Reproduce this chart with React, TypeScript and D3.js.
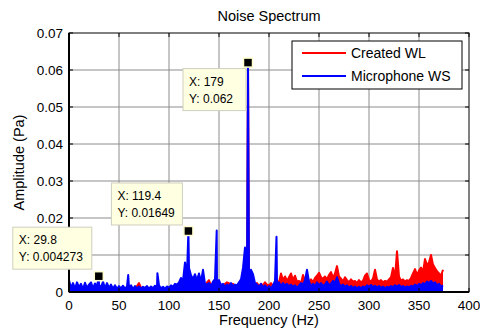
import * as d3 from 'd3';

// frequency grid (Hz) shared by both spectra, values in mPa
const gridFreq = d3.range(0, 376, 2);

const createdWL = [
  0.4, 0.8, 0.5, 0.9, 0.6, 1.0, 0.5, 0.8, 0.6, 0.9,
  0.5, 0.8, 0.6, 1.0, 0.7, 0.9, 0.5, 0.8, 0.6, 0.9,
  0.5, 0.7, 0.4, 0.8, 0.6, 0.9, 0.5, 0.7, 0.6, 0.8,
  0.5, 0.9, 0.7, 1.2, 1.6, 2.4, 1.2, 0.8, 0.6, 0.9,
  0.6, 1.0, 0.7, 0.9, 0.5, 0.8, 0.6, 1.0, 0.7, 0.9,
  0.6, 0.9, 0.7, 1.1, 0.8, 1.2, 0.9, 1.4, 1.0, 1.6,
  1.4, 2.0, 1.2, 1.6, 1.0, 1.4, 1.2, 1.8, 1.3, 2.6,
  3.2, 1.6, 2.4, 1.2, 1.8, 1.4, 2.0, 1.6, 2.2, 2.6,
  2.4, 1.8, 2.2, 1.4, 1.8, 1.6, 2.0, 1.4, 2.4, 3.0,
  5.4, 3.6, 2.6, 2.0, 2.4, 1.6, 2.2, 1.8, 2.6, 2.0,
  1.8, 2.4, 1.6, 2.2, 3.0, 2.6, 5.0, 3.2, 4.2, 3.0,
  4.0, 5.0, 3.2, 4.4, 2.8, 3.0, 2.4, 4.6, 3.0, 3.6,
  2.8, 3.4, 2.6, 3.8, 4.4, 5.2, 4.0, 3.6, 4.2, 3.4,
  4.6, 5.4, 3.8, 5.0, 7.0, 4.2, 3.6, 2.8, 4.0, 3.2,
  2.6, 3.4, 2.8, 3.0, 2.4, 3.2, 2.6, 3.0, 4.4, 5.0,
  3.2, 2.8, 3.6, 6.0, 3.4, 2.8, 3.2, 2.6, 3.0, 2.8,
  3.4, 4.0, 6.5, 3.8, 11.0, 4.2, 3.0, 3.4, 2.8, 3.2,
  3.0, 3.8, 5.0, 6.2, 4.6, 5.8, 6.6, 5.4, 8.9, 7.2,
  8.0, 10.0, 7.4, 6.5, 5.6, 5.0, 4.4, 6.0,
];

const microphoneWS = [
  3.2, 1.2, 2.4, 0.9, 2.6, 1.3, 2.2, 0.8, 2.5, 1.1,
  2.0, 2.6, 1.0, 2.3, 1.5, 2.0, 1.2, 2.8, 1.0, 2.4,
  1.1, 2.0, 0.9, 1.8, 0.8, 1.6, 1.0, 1.7, 0.9, 1.5,
  1.2, 1.8, 0.8, 1.6, 1.0, 1.5, 0.9, 1.4, 1.1, 1.6,
  0.9, 1.5, 1.0, 1.7, 1.2, 1.8, 1.0, 1.4, 0.9, 1.5,
  1.2, 1.8, 1.4, 2.2, 2.0, 2.6, 3.8, 3.0, 8.0, 5.0,
  6.5, 4.5, 3.5, 4.8, 3.2, 5.0, 2.8, 6.0, 2.2, 2.0,
  2.4, 1.6, 2.8, 3.5, 2.0, 3.2, 1.8, 2.2, 1.4, 2.0,
  1.6, 2.4, 1.5, 2.0, 1.8, 2.6, 3.4, 6.5, 12.0, 5.0,
  4.2, 6.0, 4.8, 2.4, 2.0, 1.4, 2.2, 1.2, 1.8, 1.0,
  1.6, 1.0, 1.8, 3.0, 2.2, 2.6, 1.6, 2.4, 1.8, 2.2,
  1.5, 2.0, 1.4, 1.8, 1.2, 1.7, 2.4, 2.0, 3.2, 6.0,
  2.8, 1.6, 2.2, 1.5, 2.6, 1.8, 2.4, 1.6, 2.0, 2.8,
  1.8, 2.2, 3.0, 2.4, 4.0, 2.2, 1.6, 2.0, 1.4, 1.8,
  1.2, 1.6, 1.1, 1.5, 1.0, 1.4, 1.0, 1.5, 1.2, 1.8,
  1.4, 1.9, 1.3, 1.7, 1.2, 1.6, 1.1, 1.5, 1.0, 1.4,
  1.2, 1.6, 1.3, 1.8, 1.5, 1.9, 1.4, 1.6, 1.2, 1.5,
  1.3, 1.7, 1.4, 2.0, 1.6, 2.2, 1.8, 2.4, 2.0, 2.8,
  2.4, 3.0, 2.2, 2.6, 1.8, 2.2, 1.4, 1.8,
];

// narrow tones between grid points: [Hz, mPa]
const createdPeaks = [[179, 62.2]];
const microphonePeaks = [
  [29.8, 4.273], [59.2, 4.6], [88.4, 5.1], [119.4, 16.49],
  [147.7, 16.6], [179, 62.0], [207.5, 14.9],
];

const datatipX = [179, 119.4, 29.8];
const datatipY = [0.062, 0.01649, 0.004273];
const datatipOffsets = [
  { dx: -65, dy: 6, w: 63 },
  { dx: -77, dy: -48, w: 71 },
  { dx: -86, dy: -49, w: 79 },
];

const xTicks = [0, 50, 100, 150, 200, 250, 300, 350, 400];
const yTicks = [0, 0.01, 0.02, 0.03, 0.04, 0.05, 0.06, 0.07];

const seriesNames = ['Created WL', 'Microphone WS'];
const seriesColors = ['#ff0000', '#0000ff'];

function buildSeries(vals: number[], peaks: number[][]) {
  const pts = gridFreq.map((f, i) => [f, vals[i] / 1000]);
  peaks.forEach(p => pts.push([p[0], p[1] / 1000]));
  pts.sort((a, b) => a[0] - b[0]);
  return pts;
}

export default function App() {
  const W = 480, H = 334;
  const left = 69, right = 469, top = 33, bottom = 292;
  const font = '"Liberation Sans", Arial, sans-serif';

  const x = d3.scaleLinear().domain([0, 400]).range([left, right]);
  const y = d3.scaleLinear().domain([0, 0.07]).range([bottom, top]);

  const line = d3.line<number[]>().x(d => x(d[0])).y(d => y(d[1]));
  // dense spectra render as a solid band down to the floor
  const area = d3.area<number[]>().x(d => x(d[0])).y0(y(0)).y1(d => y(d[1]));
  const series = [
    buildSeries(createdWL, createdPeaks),
    buildSeries(microphoneWS, microphonePeaks),
  ];

  const tickLen = 4;

  return (
    <svg width={W} height={H} style={{ position: 'absolute', left: 0, top: 0, background: '#fff' }}
      fontFamily={font}>
      <rect x={0} y={0} width={W} height={H} fill="#fff" />

      {/* grid */}
      {xTicks.slice(1, -1).map(t => (
        <line key={'gx' + t} x1={x(t)} x2={x(t)} y1={top} y2={bottom} stroke="#8c8c8c" strokeWidth={1} />
      ))}
      {yTicks.slice(1, -1).map(t => (
        <line key={'gy' + t} x1={left} x2={right} y1={y(t)} y2={y(t)} stroke="#8c8c8c" strokeWidth={1} />
      ))}

      {/* spectra */}
      {series.map((s, i) => (
        <g key={i}>
          <path d={area(s) || ''} fill={seriesColors[i]} />
          <path d={line(s) || ''} fill="none" stroke={seriesColors[i]} strokeWidth={2}
            strokeLinejoin="round" />
        </g>
      ))}

      {/* axes box + ticks */}
      <rect x={left} y={top} width={right - left} height={bottom - top} fill="none" stroke="#000" strokeWidth={1} />
      <line x1={left} x2={left} y1={top} y2={bottom} stroke="#000" strokeWidth={2} />
      <line x1={left} x2={right} y1={bottom} y2={bottom} stroke="#000" strokeWidth={2} />
      {xTicks.map(t => (
        <g key={'xt' + t}>
          <line x1={x(t)} x2={x(t)} y1={bottom} y2={bottom - tickLen} stroke="#000" />
          <line x1={x(t)} x2={x(t)} y1={top} y2={top + tickLen} stroke="#000" />
          <text x={x(t)} y={bottom + 18} textAnchor="middle" fontSize={13.5}>{t}</text>
        </g>
      ))}
      {yTicks.map(t => (
        <g key={'yt' + t}>
          <line x1={left} x2={left + tickLen} y1={y(t)} y2={y(t)} stroke="#000" />
          <line x1={right} x2={right - tickLen} y1={y(t)} y2={y(t)} stroke="#000" />
          {/* the 0.01 label sits behind the lowest data tip in the reference */}
          {t !== 0.01 && (
            <text x={left - 6} y={y(t) + 4.5} textAnchor="end" fontSize={13.5}>{t === 0 ? '0' : t.toFixed(2)}</text>
          )}
        </g>
      ))}

      {/* labels */}
      <text x={(left + right) / 2} y={21} textAnchor="middle" fontSize={14.5}>Noise Spectrum</text>
      <text x={(left + right) / 2} y={325} textAnchor="middle" fontSize={14.5}>Frequency (Hz)</text>
      <text transform={`translate(24,${(top + bottom) / 2}) rotate(-90)`} textAnchor="middle" fontSize={14.5}>
        Amplitude (Pa)
      </text>

      {/* legend */}
      <g transform="translate(292,41)">
        <rect x={0} y={0} width={170} height={48} fill="#fff" stroke="#000" strokeWidth={1} />
        {seriesNames.map((n, i) => (
          <g key={n} transform={`translate(0,${12 + i * 23})`}>
            <line x1={10} x2={54} y1={0} y2={0} stroke={seriesColors[i]} strokeWidth={2} />
            <text x={59} y={5} fontSize={14}>{n}</text>
          </g>
        ))}
      </g>

      {/* data tips */}
      {datatipX.map((fx, i) => {
        const px = x(fx), py = y(datatipY[i]);
        const o = datatipOffsets[i];
        const bx = px + o.dx, by = py + o.dy;
        return (
          <g key={'tip' + i}>
            <rect x={bx} y={by} width={o.w} height={42} fill="#ffffe1" stroke="#cfcfbf" strokeWidth={1} />
            <text x={bx + 6} y={by + 17} fontSize={12}>X: {fx}</text>
            <text x={bx + 6} y={by + 34} fontSize={12}>Y: {datatipY[i]}</text>
            <rect x={px - 4.5} y={py - 4.5} width={9} height={9} fill="#000" stroke="#ffffd0" strokeWidth={1.5} />
          </g>
        );
      })}
    </svg>
  );
}
